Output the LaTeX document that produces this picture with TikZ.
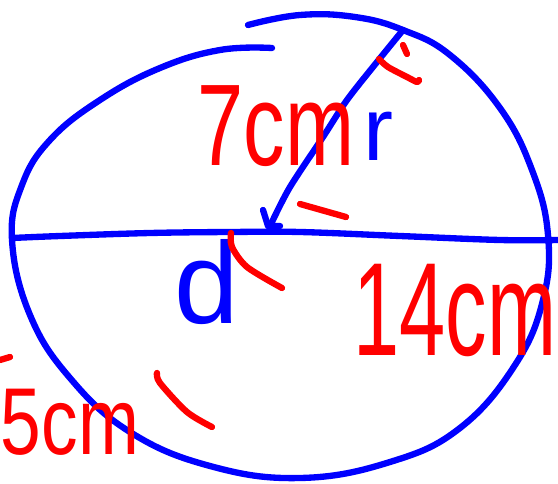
\documentclass[tikz,border=0pt]{standalone}
\usepackage{fontspec}
\setmainfont{Liberation Sans}
\usetikzlibrary{positioning,calc}

\begin{document}
\begin{tikzpicture}[x=0.05cm,y=-0.05cm,
  pen/.style={line width=9pt,line cap=round,line join=round},
  bluepen/.style={pen,blue},
  redpen/.style={pen,red},
  scrawl/.style={inner sep=0pt,transform shape}]
\useasboundingbox (0,0) rectangle (558,484);

% Circle (open stroke)
\draw[bluepen] plot[smooth,tension=0.7] coordinates {(248,25) (300,15) (355,17) (403,30)
  (450,55) (500,108) (532,170) (548,235) (543,300) (515,365)
  (460,428) (390,462) (300,478) (210,466) (130,432) (70,378) (30,315)
  (12,240) (22,185) (50,140) (100,100) (160,68) (220,50) (272,48)};

% Diameter
\coordinate (dl) at (12,238);
\coordinate (dr) at (558,240);
\draw[bluepen] plot[smooth,tension=0.6] coordinates {(dl) (60,236) (150,233) (230,232)
  (300,232) (400,236) (500,240) (dr)};

% Radius
\coordinate (rtop) at (403,30);
\coordinate (rend) at (272,222);
\draw[bluepen] plot[smooth,tension=0.5] coordinates {(rtop) (377,62) (347,100) (323,137)
  (290,187) (rend)};
\draw[bluepen] (263,210) -- (268,226) -- (280,226);

% Labels
\node[scrawl,red,yscale=1.4,font=\fontsize{118}{118}\selectfont] (seven) at (276,126) {7cm};
\node[scrawl,blue,font=\fontsize{128}{128}\selectfont] (rlab) at (378,136) {r};
\node[scrawl,blue,font=\fontsize{165}{165}\selectfont] (dlab) at (207,282) {d};
\node[scrawl,red,yscale=1.6,font=\fontsize{118}{118}\selectfont] (fourteen) at (455,310) {14cm};
\node[scrawl,red,yscale=1.3,font=\fontsize{104}{104}\selectfont] (five) at (70,422) {5cm};

% Red marks
\draw[redpen] (403,45) -- (407,54);
\draw[redpen] plot[smooth] coordinates {(379,59) (388,67) (407,77) (417,82) (419,80)};
\draw[redpen] (300,204) -- (346,217);
\draw[redpen] plot[smooth] coordinates {(231,233) (232,247) (247,267) (282,288)};
\draw[redpen] plot[smooth] coordinates {(157,373) (160,383) (187,412) (212,427)};
\draw[redpen] (0,360) -- (10,357);
\end{tikzpicture}
\end{document}
